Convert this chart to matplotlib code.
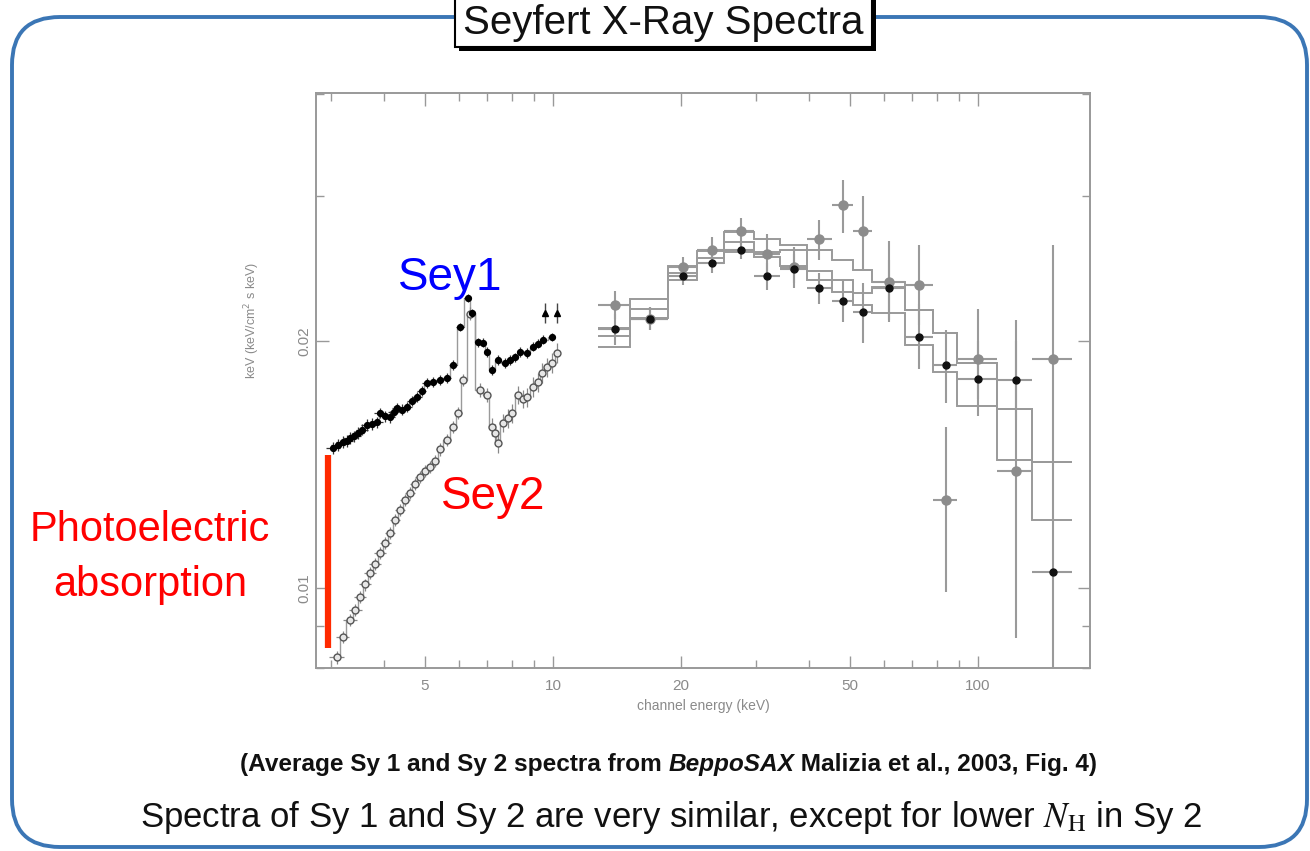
import numpy as np
import matplotlib
matplotlib.use("Agg")
import matplotlib.pyplot as plt
from matplotlib.patches import FancyBboxPatch, Rectangle
from matplotlib.ticker import FixedLocator, FixedFormatter, NullFormatter

plt.rcParams['font.family'] = ['Liberation Sans', 'DejaVu Sans']
NARROW = ['Liberation Sans Narrow', 'Liberation Sans', 'DejaVu Sans']

# ---- MECS band (3-10 keV), average Sy 1 ----
SY1_MECS_E = [3.04, 3.12, 3.20, 3.27, 3.33, 3.41, 3.48, 3.56, 3.65, 3.75,
              3.86, 3.92, 4.02, 4.14, 4.22, 4.30, 4.41, 4.53, 4.66, 4.79,
              4.92, 5.05, 5.22, 5.42, 5.63, 5.82, 6.04, 6.31, 6.45, 6.66,
              6.84, 6.99, 7.19, 7.42, 7.71, 7.93, 8.15, 8.36, 8.69, 8.97,
              9.20, 9.47, 9.95]
SY1_MECS_F = [0.01481, 0.01495, 0.01506, 0.01512, 0.01523, 0.01530, 0.01545, 0.01560, 0.01580, 0.01585,
              0.01593, 0.01634, 0.01620, 0.01616, 0.01640, 0.01657, 0.01650, 0.01662, 0.01690, 0.01709,
              0.01740, 0.01778, 0.01783, 0.01792, 0.01802, 0.01870, 0.02080, 0.02256, 0.02164, 0.01994,
              0.01989, 0.01939, 0.01844, 0.01896, 0.01880, 0.01896, 0.01910, 0.01939, 0.01934, 0.01967,
              0.01985, 0.02006, 0.02023]
SY1_MECS_ERR = 0.00025
# two high channels at the top of the band
SY1_EDGE_E = [9.57, 10.22]
SY1_EDGE_F = [0.02164, 0.02164]
SY1_EDGE_ERR = [0.0006, 0.0006]

# ---- MECS band, average Sy 2 ----
SY2_MECS_E = [3.10, 3.20, 3.33, 3.43, 3.52, 3.62, 3.71, 3.82, 3.92, 4.03,
              4.14, 4.25, 4.37, 4.49, 4.61, 4.73, 4.86, 5.00, 5.14, 5.28,
              5.42, 5.63, 5.82, 5.98, 6.14, 6.38, 6.73, 6.99, 7.19, 7.30,
              7.42, 7.63, 7.82, 8.01, 8.27, 8.48, 8.69, 8.97, 9.20, 9.42,
              9.68, 9.95, 10.22]
SY2_MECS_F = [0.00824, 0.00871, 0.00914, 0.00940, 0.00975, 0.01010, 0.01043, 0.01070, 0.01103, 0.01135,
              0.01167, 0.01210, 0.01244, 0.01280, 0.01305, 0.01340, 0.01366, 0.01390, 0.01405, 0.01430,
              0.01475, 0.01515, 0.01571, 0.01634, 0.01792, 0.02160, 0.01743, 0.01719, 0.01571, 0.01545,
              0.01502, 0.01589, 0.01610, 0.01634, 0.01719, 0.01700, 0.01709, 0.01758, 0.01780, 0.01828,
              0.01859, 0.01880, 0.01934]
SY2_MECS_ERR = [0.00015, 0.00015, 0.00016, 0.00016, 0.00017, 0.00017, 0.00018, 0.00018, 0.00019, 0.00019,
                0.00020, 0.00020, 0.00021, 0.00021, 0.00022, 0.00022, 0.00023, 0.00023, 0.00024, 0.00024,
                0.00025, 0.00026, 0.00027, 0.00028, 0.00030, 0.00040, 0.00035, 0.00035, 0.00040, 0.00040,
                0.00040, 0.00042, 0.00042, 0.00044, 0.00045, 0.00045, 0.00046, 0.00048, 0.00048, 0.00050,
                0.00050, 0.00052, 0.00055]
MECS_HALF_BIN = 0.12

# ---- PDS band (13-170 keV) ----
PDS_EDGES = [12.76, 15.17, 18.6, 21.8, 25.2, 29.7, 34.2, 39.6, 45.3, 50.8,
             56.4, 67.2, 78.5, 89.1, 110.6, 133.6, 166.4]
PDS_E = [14.0, 16.9, 20.2, 23.7, 27.7, 31.9, 36.9, 42.3, 48.1, 53.6,
         61.9, 72.6, 84.0, 100.0, 123.0, 150.0]

SY2_PDS_F = [0.0221, 0.0213, 0.0246, 0.0258, 0.0272, 0.0255, 0.0246, 0.0266, 0.0293, 0.0272,
             0.0236, 0.0234, 0.0128, 0.0190, 0.0139, 0.0190]
SY2_PDS_LO = [0.0213, 0.0206, 0.0239, 0.0248, 0.0262, 0.0240, 0.0232, 0.0251, 0.0271, 0.0244,
              0.0212, 0.0209, 0.0099, 0.0170, 0.0087, 0.0145]
SY2_PDS_HI = [0.0230, 0.0220, 0.0253, 0.0268, 0.0282, 0.0270, 0.0260, 0.0281, 0.0314, 0.0300,
              0.0265, 0.0262, 0.0157, 0.0219, 0.0212, 0.0262]

SY1_PDS_F = [0.0207, 0.0213, 0.0240, 0.0249, 0.0258, 0.0240, 0.0245, 0.0232, 0.0224, 0.0217,
             0.0232, 0.0202, 0.0187, 0.0180, 0.0179, 0.01045]
SY1_PDS_LO = [0.0198, 0.0206, 0.0234, 0.0242, 0.0252, 0.0231, 0.0235, 0.0222, 0.0211, 0.0199,
              0.0211, 0.0185, 0.0168, 0.0162, 0.0160, 0.0075]
SY1_PDS_HI = [0.0216, 0.0220, 0.0246, 0.0256, 0.0264, 0.0249, 0.0255, 0.0242, 0.0237, 0.0235,
              0.0251, 0.0222, 0.0206, 0.0200, 0.0200, 0.0145]

# folded model curves in the PDS band
MODEL_A = [0.02074, 0.0225, 0.02468, 0.02576, 0.02717, 0.02662, 0.02618, 0.02582, 0.0251, 0.02442,
           0.0236, 0.02182, 0.02045, 0.0188, 0.01652, 0.01424]
MODEL_B = [0.02028, 0.02188, 0.0242, 0.02525, 0.0264, 0.02568, 0.02582, 0.02434, 0.02374, 0.02289,
           0.02328, 0.02182, 0.02045, 0.0188, 0.01652, 0.01424]
MODEL_C = [0.01967, 0.02133, 0.02374, 0.0249, 0.02568, 0.02532, 0.02468, 0.02374, 0.02295, 0.02212,
           0.02164, 0.01978, 0.01834, 0.01667, 0.01432, 0.0121]

XMAJOR = [5, 10, 20, 50, 100]
XMINOR = [3, 4, 6, 7, 8, 9, 30, 40, 60, 70, 80, 90]
YMAJOR = [0.01, 0.02]
YMINOR = [0.008, 0.009, 0.03, 0.04]

GREY = '#9a9a9a'
W, H = 1310, 851

fig = plt.figure(figsize=(W / 100, H / 100), dpi=100)

# slide background in pixel coordinates
bg = fig.add_axes([0, 0, 1, 1], zorder=0)
bg.set_xlim(0, W)
bg.set_ylim(H, 0)
bg.axis('off')
frame = FancyBboxPatch((12, 17), 1295, 830, boxstyle='round,pad=0,rounding_size=48',
                       facecolor='white', edgecolor='#3b76b5', linewidth=2.8)
bg.add_patch(frame)
bg.add_patch(Rectangle((459, -6), 417, 57, facecolor='black', edgecolor='none'))
bg.add_patch(Rectangle((455, -10), 417, 57, facecolor='white', edgecolor='black', linewidth=1.5))
bg.text(663, 23, 'Seyfert X-Ray Spectra', ha='center', va='center', fontsize=29,
        family=NARROW, color='#111111')

t1 = bg.text(240, 765, '(Average Sy 1 and Sy 2 spectra from ', ha='left', va='center',
             fontsize=17.6, weight='bold', family=NARROW, color='#111111')
t2 = bg.annotate('BeppoSAX', xy=(1, 0), xycoords=t1, ha='left', va='bottom',
                 fontsize=17.6, weight='bold', family=NARROW, style='italic', color='#111111')
bg.annotate(' Malizia et al., 2003, Fig. 4)', xy=(1, 0), xycoords=t2, ha='left', va='bottom',
            fontsize=17.6, weight='bold', family=NARROW, color='#111111')
bg.text(671, 818, r'Spectra of Sy 1 and Sy 2 are very similar, except for lower $N_{\rm H}$ in Sy 2',
        ha='center', va='center', fontsize=25, family=NARROW, color='#111111',
        math_fontfamily='stix')

# spectrum panel
ax = fig.add_axes([316 / W, 1 - 668 / H, 774 / W, 575 / H], zorder=1)
ax.set_facecolor('none')
ax.set_xscale('log')
ax.set_yscale('log')
ax.set_xlim(2.77, 183.4)
ax.set_ylim(0.00799, 0.0401)

# model steps through the MECS channels
ax.step(SY1_MECS_E, SY1_MECS_F, where='mid', color=GREY, lw=1.0, zorder=2)
ax.step(SY2_MECS_E, SY2_MECS_F, where='mid', color=GREY, lw=1.0, zorder=2)
for model in (MODEL_A, MODEL_B, MODEL_C):
    ax.stairs(model, PDS_EDGES, baseline=None, color=GREY, lw=1.4, zorder=2)

ax.errorbar(SY2_MECS_E, SY2_MECS_F, yerr=SY2_MECS_ERR, xerr=MECS_HALF_BIN, fmt='o', ms=5,
            mfc='#e6e6e6', mec='#555555', mew=1.0, ecolor='#888888', elinewidth=0.9,
            capsize=0, zorder=3)
ax.errorbar(SY1_MECS_E, SY1_MECS_F, yerr=SY1_MECS_ERR, xerr=MECS_HALF_BIN, fmt='o', ms=4.2,
            mfc='black', mec='black', ecolor='#333333', elinewidth=0.9, capsize=0, zorder=4)
ax.errorbar(SY1_EDGE_E, SY1_EDGE_F, yerr=SY1_EDGE_ERR, xerr=MECS_HALF_BIN, fmt='^', ms=5,
            mfc='black', mec='black', ecolor='#444444', elinewidth=1.0, capsize=0, zorder=4)

pds_e = np.array(PDS_E)
edges = np.array(PDS_EDGES)
pds_xerr = [pds_e - edges[:-1], edges[1:] - pds_e]
for f, lo, hi, face, size in ((SY2_PDS_F, SY2_PDS_LO, SY2_PDS_HI, '#8c8c8c', 6.5),
                              (SY1_PDS_F, SY1_PDS_LO, SY1_PDS_HI, '#111111', 5)):
    f, lo, hi = np.array(f), np.array(lo), np.array(hi)
    ax.errorbar(pds_e, f, yerr=[f - lo, hi - f], xerr=pds_xerr, fmt='o', ms=size,
                mfc=face, mec=face, ecolor=GREY, elinewidth=1.5, capsize=0, zorder=3)

ax.xaxis.set_major_locator(FixedLocator(XMAJOR))
ax.xaxis.set_major_formatter(FixedFormatter([str(v) for v in XMAJOR]))
ax.xaxis.set_minor_locator(FixedLocator(XMINOR))
ax.xaxis.set_minor_formatter(NullFormatter())
ax.yaxis.set_major_locator(FixedLocator(YMAJOR))
ax.yaxis.set_major_formatter(FixedFormatter(['0.01', '0.02']))
ax.yaxis.set_minor_locator(FixedLocator(YMINOR))
ax.yaxis.set_minor_formatter(NullFormatter())
ax.tick_params(which='both', direction='in', top=True, right=True, color='#999999',
               labelcolor='#8a8a8a', labelsize=11)
ax.tick_params(which='major', length=9, width=1.0)
ax.tick_params(which='minor', length=6, width=1.0)
ax.tick_params(axis='x', pad=8)
for lbl in ax.get_yticklabels():
    lbl.set_rotation(90)
    lbl.set_va('center')
for sp in ax.spines.values():
    sp.set_color('#999999')
    sp.set_linewidth(1.4)

ax.set_xlabel('channel energy (keV)', fontsize=10, color='#8a8a8a', labelpad=4)
ax.set_ylabel(r'keV (keV/cm$^2$ s keV)', fontsize=9, color='#8a8a8a')
ax.yaxis.set_label_coords(-0.07, 0.605)

# annotations
ax.text(5.72, 0.02387, 'Sey1', color='#0000ff', fontsize=33, ha='center', va='center', zorder=5)
ax.text(7.22, 0.01291, 'Sey2', color='#ff0000', fontsize=33, ha='center', va='center', zorder=5)
ax.plot([2.955, 2.955], [0.00845, 0.01452], color='#ff2a00', lw=4.5, solid_capstyle='butt',
        clip_on=False, zorder=5)
fig.text(150 / W, 1 - 530 / H, 'Photoelectric', color='#ff0000', fontsize=30,
         ha='center', va='center')
fig.text(150 / W, 1 - 585 / H, 'absorption', color='#ff0000', fontsize=30,
         ha='center', va='center')

fig.savefig('out.png', dpi=100, facecolor='white')
